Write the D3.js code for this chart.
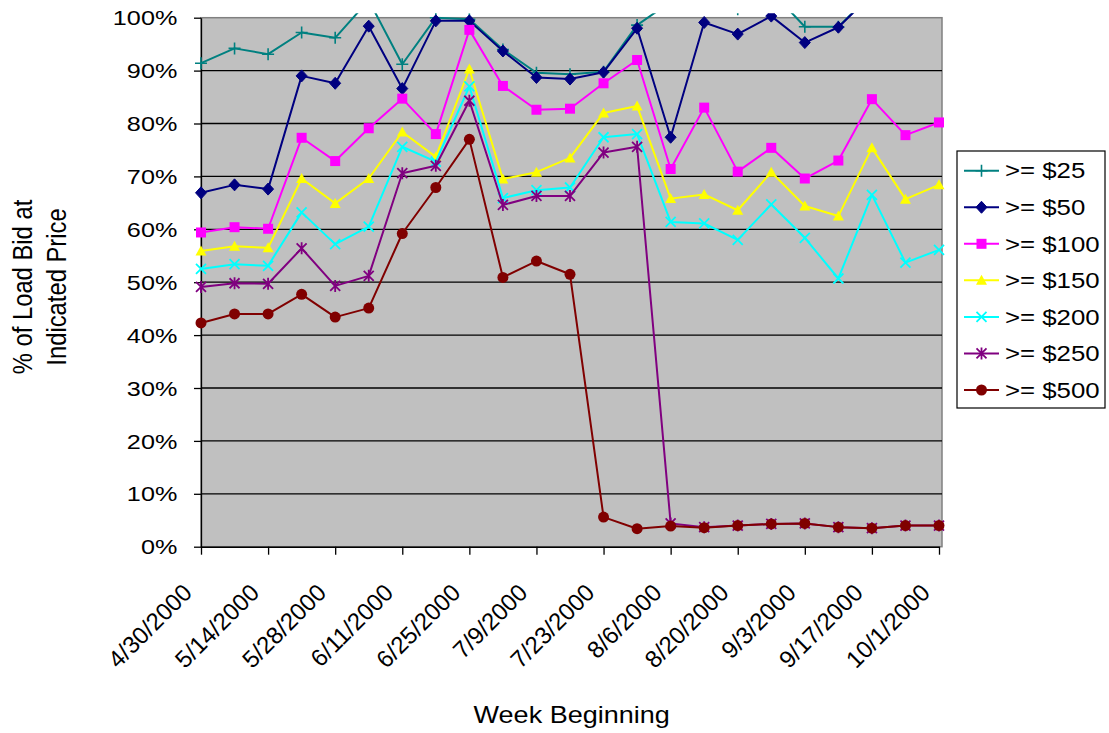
<!DOCTYPE html>
<html>
<head>
<meta charset="utf-8">
<script src="https://cdn.jsdelivr.net/npm/d3@7"></script>
<style>
  body { margin: 0; background: #fff; }
  svg { display: block; }
  text { font-family: "Liberation Sans", Arial, sans-serif; fill: #000; }
</style>
</head>
<body>
<svg id="chart" width="1109" height="733"></svg>
<script>
// Week-beginning dates (weekly, 4/30/2000 through 10/1/2000)
const weeks = ["4/30/2000","5/7/2000","5/14/2000","5/21/2000","5/28/2000","6/4/2000",
  "6/11/2000","6/18/2000","6/25/2000","7/2/2000","7/9/2000","7/16/2000","7/23/2000",
  "7/30/2000","8/6/2000","8/13/2000","8/20/2000","8/27/2000","9/3/2000","9/10/2000",
  "9/17/2000","9/24/2000","10/1/2000"];
const tickWeeks = weeks.filter((d, i) => i % 2 === 0);
const yTicks = [0, 10, 20, 30, 40, 50, 60, 70, 80, 90, 100];

const seriesNames = [">= $25", ">= $50", ">= $100", ">= $150", ">= $200", ">= $250", ">= $500"];

// % of load bid at or above each price
const ge25  = [91.4, 94.2, 93.1, 97.2, 96.2, 103.3, 91.2, 100.0, 99.7, 94.0, 89.6, 89.3, 89.8, 98.6, 103.0, 104.0, 101.6, 105.0, 98.3, 98.3, 104.5, 104.0, 104.5];
const ge50  = [66.9, 68.4, 67.6, 89.0, 87.6, 98.4, 86.6, 99.4, 99.4, 93.7, 88.7, 88.4, 89.7, 98.0, 77.4, 99.1, 96.9, 100.3, 95.3, 98.2, 104.4, 103.0, 104.0];
const ge100 = [59.4, 60.4, 60.1, 77.3, 72.9, 79.1, 84.7, 78.0, 97.7, 87.1, 82.6, 82.8, 87.6, 92.0, 71.4, 83.0, 70.9, 75.4, 69.6, 73.0, 84.6, 77.8, 80.2];
const ge150 = [55.9, 56.8, 56.5, 69.6, 64.9, 69.6, 78.4, 73.7, 90.3, 69.5, 70.8, 73.5, 82.0, 83.3, 65.8, 66.6, 63.6, 70.8, 64.4, 62.5, 75.4, 65.7, 68.4];
const ge200 = [52.5, 53.4, 53.1, 63.2, 57.2, 60.5, 75.6, 72.8, 87.0, 65.9, 67.4, 67.9, 77.4, 78.0, 61.4, 61.1, 58.0, 64.7, 58.4, 50.7, 66.5, 53.7, 56.1];
const ge250 = [49.1, 49.8, 49.7, 56.4, 49.3, 51.2, 70.6, 72.0, 84.3, 64.6, 66.3, 66.3, 74.5, 75.6, 4.4, 3.7, 4.0, 4.3, 4.4, 3.7, 3.5, 4.0, 4.0];
const ge500 = [42.3, 44.0, 44.0, 47.7, 43.4, 45.1, 59.2, 67.9, 77.0, 50.9, 54.0, 51.5, 5.6, 3.4, 3.9, 3.6, 4.0, 4.3, 4.4, 3.7, 3.5, 4.0, 4.0];

const seriesValues = [ge25, ge50, ge100, ge150, ge200, ge250, ge500];
const seriesColors = ["#008080", "#000080", "#FF00FF", "#FFFF00", "#00FFFF", "#800080", "#800000"];
const seriesMarkers = ["plus", "diamond", "square", "triangle", "cross", "star", "circle"];

const svg = d3.select("#chart");

const plot = { left: 201, right: 942, top: 17.7, bottom: 546.7 };

const x = d3.scalePoint().domain(weeks).range([plot.left, 939]);
const y = d3.scaleLinear().domain([0, 100]).range([plot.bottom, plot.top]);

// plot area
svg.append("rect")
  .attr("x", plot.left).attr("y", plot.top)
  .attr("width", plot.right - plot.left).attr("height", plot.bottom - plot.top)
  .attr("fill", "#C0C0C0").attr("stroke", "#808080").attr("stroke-width", 1.5);

// horizontal gridlines
svg.append("g").selectAll("line")
  .data(yTicks.filter(v => v > 0 && v < 100))
  .join("line")
  .attr("x1", plot.left).attr("x2", plot.right)
  .attr("y1", d => y(d)).attr("y2", d => y(d))
  .attr("stroke", "#000").attr("stroke-width", 1.3);

// y axis
const yAxis = svg.append("g")
  .attr("transform", `translate(${plot.left},0)`)
  .call(d3.axisLeft(y).tickValues(yTicks).tickFormat(d => d + "%").tickSize(7).tickSizeOuter(0));
yAxis.select(".domain").attr("stroke", "#000").attr("stroke-width", 1.3);
yAxis.selectAll(".tick line").attr("stroke", "#000").attr("stroke-width", 1.3);
yAxis.selectAll(".tick text")
  .attr("x", 0)
  .attr("dy", "0.34em")
  .attr("transform", "translate(-23.7,0) scale(1.2,1)")
  .style("font-size", "21px")
  .attr("fill", "#000");

// x axis
const xAxis = svg.append("g")
  .attr("transform", `translate(0,${plot.bottom})`)
  .call(d3.axisBottom(x).tickValues(tickWeeks).tickSize(8).tickSizeOuter(0));
xAxis.select(".domain").attr("stroke", "#000").attr("stroke-width", 1.6);
xAxis.selectAll(".tick line").attr("stroke", "#000").attr("stroke-width", 1.3);
xAxis.selectAll(".tick text")
  .attr("x", 0).attr("y", 0).attr("dy", 0)
  .attr("text-anchor", "end")
  .attr("transform", "translate(-8,47.3) rotate(-45)")
  .style("font-size", "24px")
  .attr("fill", "#000");

// axis titles
svg.append("text")
  .attr("x", 571.7).attr("y", 723)
  .attr("text-anchor", "middle")
  .attr("transform", "translate(571.7,0) scale(1.15,1) translate(-571.7,0)")
  .style("font-size", "23.5px")
  .text("Week Beginning");

const yTitle = svg.append("g").attr("transform", "translate(0,287) scale(1.19,1)");
yTitle.append("text")
  .attr("transform", `translate(${32 / 1.19},0) rotate(-90)`)
  .attr("text-anchor", "middle")
  .style("font-size", "23.8px")
  .text("% of Load Bid at");
yTitle.append("text")
  .attr("transform", `translate(${66 / 1.19},0) rotate(-90)`)
  .attr("text-anchor", "middle")
  .style("font-size", "23.8px")
  .text("Indicated Price");

// marker shapes
function drawMarker(g, type, color) {
  switch (type) {
    case "plus":
      g.append("path").attr("d", "M-6,0H6M0,-6V6").attr("stroke", color).attr("stroke-width", 1.6).attr("fill", "none");
      break;
    case "diamond":
      g.append("path").attr("d", "M0,-6L5.5,0L0,6L-5.5,0Z").attr("fill", color).attr("stroke", color).attr("stroke-width", 1);
      break;
    case "square":
      g.append("rect").attr("x", -5).attr("y", -5).attr("width", 10).attr("height", 10).attr("fill", color);
      break;
    case "triangle":
      g.append("path").attr("d", "M0,-5.5L5.5,4.5L-5.5,4.5Z").attr("fill", color);
      break;
    case "cross":
      g.append("path").attr("d", "M-5,-5L5,5M-5,5L5,-5").attr("stroke", color).attr("stroke-width", 1.8).attr("fill", "none");
      break;
    case "star":
      g.append("path").attr("d", "M-5,-5L5,5M-5,5L5,-5M0,-6V6").attr("stroke", color).attr("stroke-width", 1.8).attr("fill", "none");
      break;
    case "circle":
      g.append("circle").attr("r", 5.5).attr("fill", color);
      break;
  }
}

// clipping region for the series
svg.append("clipPath").attr("id", "plotClip")
  .append("rect").attr("x", 190).attr("y", 13.3).attr("width", 770).attr("height", 545);

const seriesLayer = svg.append("g").attr("clip-path", "url(#plotClip)");

const line = d3.line()
  .x((d, i) => x(weeks[i]))
  .y(d => y(d));

seriesValues.forEach((vals, s) => {
  const g = seriesLayer.append("g");
  g.append("path")
    .attr("d", line(vals))
    .attr("fill", "none")
    .attr("stroke", seriesColors[s])
    .attr("stroke-width", 2)
    .attr("stroke-linejoin", "round");
  vals.forEach((v, i) => {
    const m = g.append("g").attr("transform", `translate(${x(weeks[i])},${y(v)})`);
    drawMarker(m, seriesMarkers[s], seriesColors[s]);
  });
});

// legend
const legend = svg.append("g");
legend.append("rect")
  .attr("x", 957).attr("y", 151).attr("width", 148).attr("height", 257)
  .attr("fill", "#fff").attr("stroke", "#000").attr("stroke-width", 1.2);

seriesNames.forEach((name, s) => {
  const cy = 170.7 + s * 36.55;
  const item = legend.append("g");
  item.append("line")
    .attr("x1", 964).attr("x2", 999).attr("y1", cy).attr("y2", cy)
    .attr("stroke", seriesColors[s]).attr("stroke-width", 2);
  const m = item.append("g").attr("transform", `translate(981.5,${cy})`);
  drawMarker(m, seriesMarkers[s], seriesColors[s]);
  item.append("text")
    .attr("x", 0).attr("y", 0).attr("dy", "0.36em")
    .attr("transform", `translate(1005,${cy}) scale(1.2,1)`)
    .style("font-size", "21.5px")
    .text(name);
});
</script>
</body>
</html>
